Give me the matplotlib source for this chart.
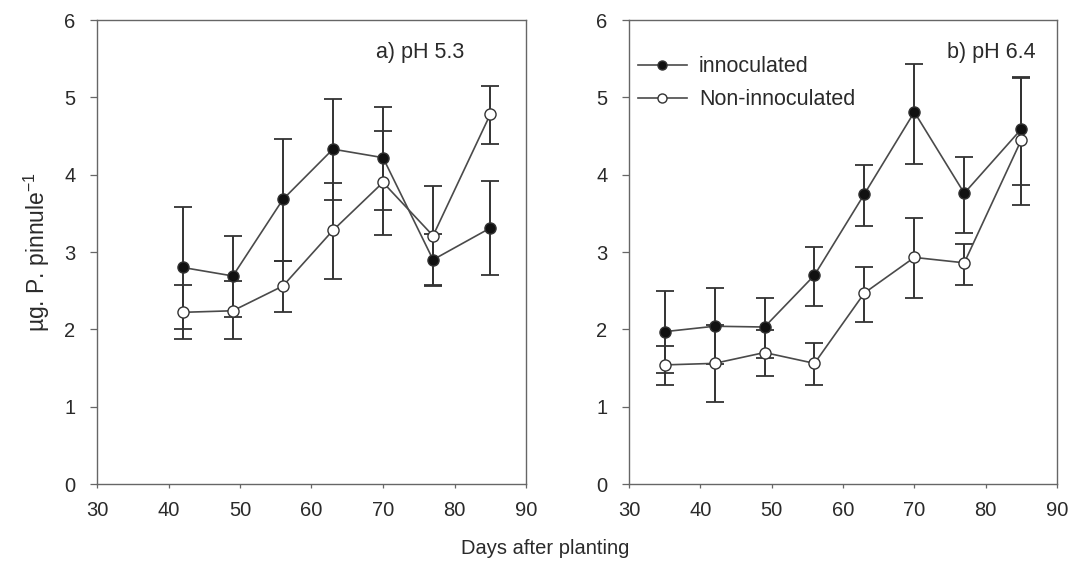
import numpy as np
import matplotlib
matplotlib.use("Agg")
import matplotlib.pyplot as plt
from matplotlib.lines import Line2D

plt.rcParams['font.family'] = ['Liberation Sans', 'DejaVu Sans']

# ---- data: panel a) pH 5.3 ----
days_a = [42, 49, 56, 63, 70, 77, 85]
inoc_a = [2.80, 2.69, 3.68, 4.33, 4.22, 2.90, 3.31]
inoc_a_hi = [3.58, 3.21, 4.46, 4.98, 4.88, 3.23, 3.92]
inoc_a_lo = [2.01, 2.16, 2.88, 3.67, 3.54, 2.56, 2.70]
non_a = [2.22, 2.24, 2.56, 3.28, 3.90, 3.21, 4.78]
non_a_hi = [2.57, 2.62, 2.88, 3.89, 4.57, 3.85, 5.15]
non_a_lo = [1.87, 1.87, 2.22, 2.65, 3.22, 2.57, 4.40]

# ---- data: panel b) pH 6.4 ----
days_b = [35, 42, 49, 56, 63, 70, 77, 85]
inoc_b = [1.97, 2.04, 2.03, 2.70, 3.75, 4.81, 3.76, 4.59]
inoc_b_hi = [2.49, 2.54, 2.41, 3.07, 4.13, 5.43, 4.23, 5.26]
inoc_b_lo = [1.43, 1.55, 1.63, 2.30, 3.33, 4.14, 3.24, 3.87]
non_b = [1.54, 1.56, 1.70, 1.56, 2.47, 2.93, 2.86, 4.45]
non_b_hi = [1.79, 2.05, 1.99, 1.82, 2.81, 3.44, 3.10, 5.25]
non_b_lo = [1.28, 1.06, 1.40, 1.28, 2.10, 2.40, 2.57, 3.61]

x_ticks = [30, 40, 50, 60, 70, 80, 90]
y_ticks = [0, 1, 2, 3, 4, 5, 6]
titles = ["a) pH 5.3", "b) pH 6.4"]
legend_labels = ["innoculated", "Non-innoculated"]

line_col = "#4a4a4a"
err_col = "#333333"
ax_col = "#666666"
txt_col = "#2a2a2a"

fig = plt.figure(figsize=(10.75, 5.64), dpi=100)
ax1 = fig.add_axes([97/1075, 1-484/564, 429/1075, 464/564])
ax2 = fig.add_axes([629/1075, 1-484/564, 428/1075, 464/564])


def draw(ax, x, m, hi, lo, filled):
    m = np.array(m); hi = np.array(hi); lo = np.array(lo)
    yerr = np.vstack([m - lo, hi - m])
    ax.errorbar(x, m, yerr=yerr, fmt='none', ecolor=err_col, elinewidth=1.4,
                capsize=6.5, capthick=1.3, zorder=2)
    ax.plot(x, m, '-', color=line_col, lw=1.2, marker='o', markersize=8,
            markerfacecolor=('#111111' if filled else 'white'),
            markeredgecolor='#333333', markeredgewidth=1.0, zorder=3)


draw(ax1, days_a, inoc_a, inoc_a_hi, inoc_a_lo, True)
draw(ax1, days_a, non_a, non_a_hi, non_a_lo, False)
draw(ax2, days_b, inoc_b, inoc_b_hi, inoc_b_lo, True)
draw(ax2, days_b, non_b, non_b_hi, non_b_lo, False)

for ax, t, tx in [(ax1, titles[0], 0.855), (ax2, titles[1], 0.951)]:
    ax.set_xlim(30, 90)
    ax.set_ylim(0, 6)
    ax.set_xticks(x_ticks)
    ax.set_yticks(y_ticks)
    ax.tick_params(axis='both', direction='out', width=0.9, colors=ax_col,
                   labelcolor=txt_col, labelsize=14.5)
    ax.tick_params(axis='y', length=5, pad=10.5)
    ax.tick_params(axis='x', length=3, pad=9)
    for s in ax.spines.values():
        s.set_color(ax_col)
        s.set_linewidth(1.0)
    ax.text(tx, 0.929, t, transform=ax.transAxes, ha='right', va='center',
            fontsize=15.5, color=txt_col)

ax1.set_ylabel("µg. P. pinnule$^{\\mathregular{-1}}$", fontsize=16.5, color=txt_col)
ax1.yaxis.set_label_coords(-0.105, 0.50)
fig.text(545/1075, 1-549/564, "Days after planting", ha='center', va='center',
         fontsize=14.5, color=txt_col)

handles = [
    Line2D([], [], color=line_col, lw=1.2, marker='o', markersize=6.5,
           markerfacecolor='#111111', markeredgecolor='#333333'),
    Line2D([], [], color=line_col, lw=1.2, marker='o', markersize=6.5,
           markerfacecolor='white', markeredgecolor='#333333'),
]
leg = ax2.legend(handles, legend_labels, loc='upper left', frameon=False,
                 fontsize=15.5, handlelength=2.3, handletextpad=0.55,
                 borderaxespad=0.0, labelspacing=0.55,
                 bbox_to_anchor=(0.0, 0.94))
for t in leg.get_texts():
    t.set_color(txt_col)

fig.savefig("out.png", dpi=100)
